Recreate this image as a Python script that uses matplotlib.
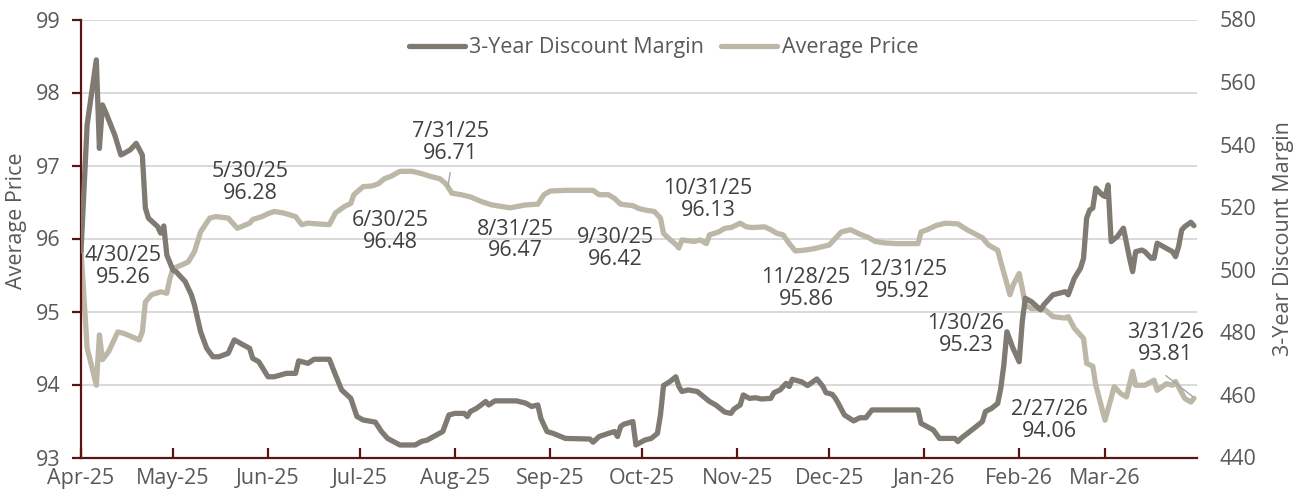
import matplotlib
matplotlib.use("Agg")
import matplotlib.pyplot as plt
import matplotlib.dates as mdates
import pandas as pd

START = pd.Timestamp("2025-04-01")
END = pd.Timestamp("2026-03-31")

# Average Price series: days since 2025-04-01 and values
price_day = [0, 2, 5, 6, 7, 9, 12, 14, 19, 20, 21, 23, 26, 28, 29, 30, 33, 35, 37, 39,
             42, 44, 48, 51, 55, 56, 59, 61, 63, 66, 70, 72, 74, 77, 81, 83, 86, 88, 89, 92,
             95, 97, 99, 101, 104, 108, 111, 114, 117, 119, 121, 124, 127, 131, 134, 140, 145, 149, 151, 153,
             158, 163, 167, 169, 172, 174, 176, 180, 182, 184, 187, 189, 190, 192, 194, 195, 196, 200, 202, 204,
             205, 208, 210, 212, 215, 217, 219, 223, 225, 227, 229, 231, 233, 236, 239, 242, 244, 246, 248, 251,
             254, 257, 259, 262, 266, 273, 274, 276, 279, 282, 286, 289, 294, 296, 299, 300, 303, 304, 306, 307,
             308, 310, 314, 317, 321, 322, 324, 327, 328, 330, 331, 334, 337, 339, 341, 343, 344, 347, 350, 351,
             354, 356, 357, 360, 362, 363]
price_val = [95.85, 94.50, 93.99, 94.68, 94.34, 94.45, 94.72, 94.70, 94.61, 94.72, 95.13, 95.23, 95.27, 95.25, 95.45, 95.59, 95.64, 95.68, 95.82, 96.09,
             96.28, 96.30, 96.28, 96.14, 96.21, 96.26, 96.30, 96.34, 96.37, 96.35, 96.30, 96.19, 96.21, 96.20, 96.19, 96.35, 96.44, 96.48, 96.60, 96.71,
             96.72, 96.75, 96.82, 96.85, 96.92, 96.92, 96.89, 96.85, 96.82, 96.75, 96.62, 96.60, 96.57, 96.50, 96.46, 96.42, 96.46, 96.47, 96.60, 96.65,
             96.66, 96.66, 96.66, 96.60, 96.60, 96.55, 96.47, 96.45, 96.41, 96.39, 96.37, 96.28, 96.07, 95.99, 95.92, 95.87, 95.98, 95.96, 95.98, 95.93,
             96.05, 96.09, 96.14, 96.15, 96.21, 96.16, 96.15, 96.16, 96.12, 96.07, 96.05, 95.93, 95.83, 95.84, 95.86, 95.89, 95.91, 96.00, 96.09, 96.12,
             96.06, 96.01, 95.96, 95.94, 95.93, 95.93, 96.09, 96.12, 96.18, 96.21, 96.20, 96.12, 96.01, 95.91, 95.84, 95.68, 95.23, 95.36, 95.52, 95.32,
             95.09, 95.04, 95.04, 94.93, 94.91, 94.93, 94.77, 94.63, 94.29, 94.25, 93.99, 93.51, 93.97, 93.88, 93.83, 94.18, 93.99, 93.99, 94.06, 93.92,
             94.01, 93.99, 94.04, 93.81, 93.76, 93.81]

# 3-Year Discount Margin series: days since 2025-04-01 and values
dm_day = [0, 2, 5, 6, 7, 8, 11, 13, 14, 16, 18, 20, 21, 22, 25, 26, 27, 28, 30, 31,
          34, 36, 37, 39, 41, 43, 45, 48, 50, 52, 55, 56, 58, 61, 63, 67, 70, 71, 74, 76,
          81, 83, 85, 88, 90, 92, 96, 98, 100, 104, 109, 111, 113, 115, 118, 120, 122, 125, 126, 127,
          129, 132, 133, 135, 142, 145, 147, 149, 150, 152, 154, 158, 166, 167, 169, 172, 174, 175, 176, 177,
          180, 181, 183, 184, 186, 188, 189, 190, 192, 194, 195, 196, 198, 201, 203, 205, 207, 210, 212, 213,
          215, 216, 218, 220, 222, 225, 226, 228, 230, 231, 232, 235, 237, 240, 242, 243, 245, 246, 247, 249,
          252, 254, 256, 258, 260, 273, 274, 278, 280, 285, 286, 287, 292, 294, 295, 297, 299, 300, 301, 302,
          304, 306, 307, 308, 310, 313, 314, 317, 319, 321, 322, 324, 326, 327, 328, 329, 330, 331, 333, 334,
          335, 336, 338, 340, 342, 343, 344, 346, 347, 349, 350, 351, 354, 356, 357, 358, 359, 360, 362, 363]
dm_val = [506.0, 546.3, 567.1, 538.8, 552.7, 550.5, 543.1, 536.7, 537.2, 538.3, 540.4, 536.7, 519.7, 516.5, 513.8, 511.7, 514.0, 504.7, 499.9, 499.4,
          496.2, 492.0, 488.8, 480.2, 474.9, 472.2, 472.2, 473.3, 477.6, 476.5, 474.9, 471.7, 470.6, 465.8, 465.8, 466.9, 466.9, 470.9, 470.1, 471.4,
          471.4, 466.4, 461.6, 458.9, 453.1, 452.0, 451.3, 448.3, 446.1, 444.0, 444.0, 445.1, 445.6, 446.7, 448.3, 453.6, 454.1, 454.1, 453.1, 454.7,
          455.7, 457.9, 456.8, 458.1, 458.1, 457.4, 456.3, 456.8, 452.5, 448.3, 447.7, 446.1, 445.9, 444.9, 446.7, 447.7, 448.3, 446.7, 449.9, 450.6,
          451.5, 444.0, 445.1, 445.6, 446.1, 447.7, 453.6, 463.0, 464.2, 465.8, 462.7, 461.1, 461.6, 461.1, 459.5, 457.9, 456.8, 454.5, 454.1, 455.5,
          456.8, 460.0, 458.9, 459.1, 458.7, 458.9, 460.7, 461.6, 463.7, 462.7, 465.0, 464.2, 463.0, 465.1, 462.7, 460.7, 460.2, 459.0, 457.3, 453.6,
          451.7, 452.7, 452.7, 455.2, 455.2, 455.2, 450.9, 448.8, 446.1, 446.1, 445.1, 446.1, 449.9, 451.5, 454.7, 455.7, 457.3, 462.1, 469.6, 480.2,
          474.9, 470.6, 483.4, 490.9, 489.8, 487.2, 488.8, 492.0, 492.5, 493.0, 492.0, 497.3, 500.5, 503.7, 516.5, 519.1, 519.7, 526.1, 524.0, 523.4,
          527.1, 509.0, 510.6, 513.3, 503.7, 499.4, 505.8, 506.3, 505.8, 503.7, 503.7, 508.5, 506.9, 505.8, 504.2, 507.4, 512.7, 513.8, 515.2, 514.1]

label_dates = ["4/30/25", "5/30/25", "6/30/25", "7/31/25", "8/31/25", "9/30/25",
               "10/31/25", "11/28/25", "12/31/25", "1/30/26", "2/27/26", "3/31/26"]
label_values = ["95.26", "96.28", "96.48", "96.71", "96.47", "96.42",
                "96.13", "95.86", "95.92", "95.23", "94.06", "93.81"]

price_ticks = [93, 94, 95, 96, 97, 98, 99]
dm_ticks = [440, 460, 480, 500, 520, 540, 560, 580]

series_names = ["3-Year Discount Margin", "Average Price"]

# ---------------- drawing ----------------
plt.rcParams["font.family"] = ["Open Sans", "DejaVu Sans"]

W, H = 1302, 493
fig = plt.figure(figsize=(W / 100, H / 100), dpi=100)
ax = fig.add_axes([81 / W, 1 - 457.5 / H, (1197 - 81) / W, 438 / H])
ax2 = ax.twinx()

DARK = "#7f7b73"
LIGHT = "#bcb7a7"
SPINE = "#5a1414"
TXT = "#595959"
ANN = "#404040"
FS = 15.5

p_dates = START + pd.to_timedelta(price_day, unit="D")
d_dates = START + pd.to_timedelta(dm_day, unit="D")

l_price, = ax.plot(p_dates, price_val, color=LIGHT, lw=3.8,
                   solid_joinstyle="round", solid_capstyle="round", label=series_names[1])
l_dm, = ax2.plot(d_dates, dm_val, color=DARK, lw=3.8,
                 solid_joinstyle="round", solid_capstyle="round", label=series_names[0])

ax.set_xlim(START, END)
ax.set_ylim(price_ticks[0], price_ticks[-1])
ax2.set_ylim(dm_ticks[0], dm_ticks[-1])
ax.set_yticks(price_ticks)
ax2.set_yticks(dm_ticks)

ax.grid(axis="y", color="#d9d9d9", lw=1.4)
ax.set_axisbelow(True)

ax.xaxis.set_major_locator(mdates.MonthLocator())
ax.xaxis.set_major_formatter(mdates.DateFormatter("%b-%y"))

for s in ["top", "right"]:
    ax.spines[s].set_visible(False)
for s in ax2.spines.values():
    s.set_visible(False)
for s in ["left", "bottom"]:
    ax.spines[s].set_color(SPINE)
    ax.spines[s].set_linewidth(1.6)

ax.tick_params(axis="x", direction="in", length=7, width=1.6, color=SPINE,
               labelcolor=TXT, labelsize=FS, pad=7.5)
ax.tick_params(axis="y", direction="out", length=6.5, width=1.6, color=SPINE,
               labelcolor=TXT, labelsize=FS, pad=8)
ax2.tick_params(axis="y", length=0, labelcolor=TXT, labelsize=FS, pad=16)

fig.text(17 / W, 1 - 221 / H, "Average Price", rotation=90, ha="center", va="center",
         color=TXT, fontsize=FS)
fig.text(1283 / W, 1 - 239 / H, "3-Year Discount Margin", rotation=90, ha="center", va="center",
         color=TXT, fontsize=FS)

fig.legend([l_dm, l_price], series_names, loc="center", bbox_to_anchor=(663.5 / W, 1 - 48 / H),
           ncol=2, frameon=False, handlelength=2.6, handletextpad=0.2, columnspacing=0.8,
           fontsize=FS, labelcolor=TXT)

# annotation positions (day offset, price-axis value)
ann_pos = [(13.7, 95.62), (55.3, 96.77), (100.8, 96.10), (120.4, 97.32), (141.6, 95.98), (174.3, 95.86),
           (204.5, 96.53), (236.5, 95.31), (267.9, 95.43), (288.6, 94.68), (315.7, 93.51), (353.6, 94.56)]
for (dx, py), dl, vl in zip(ann_pos, label_dates, label_values):
    ax2.text(START + pd.Timedelta(days=dx), py, f"{dl}\n{vl}", transform=ax.transData,
             ha="center", va="center", fontsize=FS, color=ANN, linespacing=1.05, zorder=5)

leaders = [((120.4, 96.90), (119.7, 96.71)), ((353.9, 94.12), (362.7, 93.83))]
for (a, b) in leaders:
    ax2.plot([START + pd.Timedelta(days=a[0]), START + pd.Timedelta(days=b[0])], [a[1], b[1]],
             transform=ax.transData, color="#a6a6a6", lw=1.0, zorder=4)

fig.savefig("out.png", dpi=100)
